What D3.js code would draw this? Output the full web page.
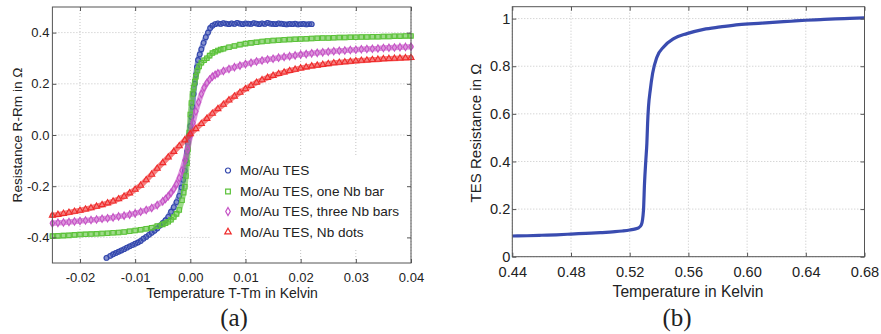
<!DOCTYPE html>
<html><head><meta charset="utf-8">
<script src="https://cdn.jsdelivr.net/npm/d3@7"></script>
<style>
html,body{margin:0;padding:0;background:#fff;}
svg text{font-family:"Liberation Sans",Arial,Helvetica,sans-serif;fill:#222;}
</style></head>
<body>
<svg id="c" width="881" height="334"></svg>
<script>
// ---------- Panel (a) data: [T-Tm (K), R-Rm (Ohm)] ----------
const seriesNames = ["Mo/Au TES", "Mo/Au TES, one Nb bar", "Mo/Au TES, three Nb bars", "Mo/Au TES, Nb dots"];
const blueTES = [[-0.0152,-0.480],[-0.0145,-0.472],[-0.014,-0.466],[-0.0135,-0.461],[-0.013,-0.456],[-0.0125,-0.451],[-0.012,-0.446],[-0.0115,-0.440],[-0.011,-0.435],[-0.0105,-0.430],[-0.010,-0.425],[-0.0095,-0.420],[-0.009,-0.414],[-0.0085,-0.405],[-0.008,-0.398],[-0.0075,-0.390],[-0.007,-0.382],[-0.0065,-0.374],[-0.006,-0.365],[-0.0055,-0.354],[-0.005,-0.344],[-0.0045,-0.333],[-0.004,-0.320],[-0.0035,-0.300],[-0.003,-0.282],[-0.0025,-0.262],[-0.002,-0.238],[-0.0016,-0.205],[-0.0013,-0.175],[-0.001,-0.140],[-0.0008,-0.100],[-0.0006,-0.065],[-0.0004,-0.030],[-0.0002,0.000],[0,0.035],[0.0002,0.070],[0.0004,0.110],[0.0006,0.160],[0.0008,0.200],[0.001,0.235],[0.0012,0.265],[0.0014,0.293],[0.0017,0.315],[0.002,0.335],[0.0024,0.360],[0.0028,0.382],[0.0032,0.400],[0.0036,0.418],[0.004,0.427],[0.0045,0.433],[0.005,0.436],[0.0055,0.434],[0.006,0.437],[0.0065,0.435],[0.007,0.433],[0.0075,0.436],[0.008,0.434],[0.0085,0.438],[0.009,0.435],[0.0095,0.433],[0.010,0.436],[0.0105,0.435],[0.011,0.434],[0.0115,0.437],[0.012,0.435],[0.0125,0.433],[0.013,0.436],[0.0135,0.434],[0.014,0.438],[0.0145,0.435],[0.015,0.434],[0.0155,0.433],[0.016,0.436],[0.0165,0.435],[0.017,0.433],[0.0175,0.432],[0.018,0.434],[0.0185,0.433],[0.019,0.435],[0.0195,0.432],[0.020,0.433],[0.0205,0.434],[0.021,0.432],[0.0215,0.433],[0.022,0.433]];
const greenOneBar = [[-0.025,-0.395],[-0.024,-0.394],[-0.023,-0.393],[-0.022,-0.392],[-0.021,-0.390],[-0.020,-0.389],[-0.019,-0.388],[-0.018,-0.387],[-0.017,-0.386],[-0.016,-0.385],[-0.015,-0.384],[-0.014,-0.382],[-0.013,-0.381],[-0.012,-0.379],[-0.011,-0.376],[-0.010,-0.373],[-0.009,-0.370],[-0.008,-0.366],[-0.007,-0.362],[-0.006,-0.356],[-0.005,-0.349],[-0.0045,-0.345],[-0.004,-0.339],[-0.0035,-0.331],[-0.003,-0.320],[-0.0025,-0.308],[-0.002,-0.293],[-0.0015,-0.255],[-0.0012,-0.225],[-0.001,-0.202],[-0.0008,-0.160],[-0.0006,-0.110],[-0.0004,-0.055],[-0.0002,0.010],[0,0.080],[0.0002,0.125],[0.0004,0.160],[0.0006,0.185],[0.0008,0.208],[0.001,0.228],[0.0013,0.252],[0.0016,0.268],[0.002,0.282],[0.0025,0.292],[0.003,0.300],[0.0035,0.310],[0.004,0.320],[0.0045,0.325],[0.005,0.330],[0.0055,0.334],[0.006,0.337],[0.007,0.343],[0.008,0.348],[0.009,0.353],[0.010,0.357],[0.011,0.360],[0.012,0.362],[0.013,0.365],[0.014,0.367],[0.015,0.369],[0.016,0.370],[0.017,0.372],[0.018,0.373],[0.019,0.374],[0.020,0.375],[0.021,0.376],[0.022,0.377],[0.023,0.378],[0.024,0.379],[0.025,0.379],[0.026,0.380],[0.027,0.381],[0.028,0.381],[0.029,0.382],[0.030,0.382],[0.031,0.383],[0.032,0.383],[0.033,0.384],[0.034,0.384],[0.035,0.385],[0.036,0.385],[0.037,0.386],[0.038,0.386],[0.039,0.387],[0.040,0.387]];
const magentaThreeBars = [[-0.025,-0.345],[-0.024,-0.343],[-0.023,-0.342],[-0.022,-0.340],[-0.021,-0.338],[-0.020,-0.336],[-0.019,-0.334],[-0.018,-0.332],[-0.017,-0.330],[-0.016,-0.327],[-0.015,-0.325],[-0.014,-0.322],[-0.013,-0.318],[-0.012,-0.315],[-0.011,-0.311],[-0.010,-0.306],[-0.009,-0.300],[-0.008,-0.293],[-0.007,-0.285],[-0.006,-0.274],[-0.005,-0.259],[-0.0045,-0.250],[-0.004,-0.239],[-0.0035,-0.226],[-0.003,-0.211],[-0.0025,-0.192],[-0.002,-0.168],[-0.0015,-0.138],[-0.001,-0.100],[-0.0005,-0.055],[0,-0.005],[0.0005,0.048],[0.001,0.092],[0.0015,0.128],[0.002,0.160],[0.0025,0.185],[0.003,0.203],[0.0035,0.217],[0.004,0.228],[0.0045,0.235],[0.005,0.241],[0.006,0.250],[0.007,0.258],[0.008,0.265],[0.009,0.271],[0.010,0.277],[0.011,0.282],[0.012,0.287],[0.013,0.291],[0.014,0.295],[0.015,0.298],[0.016,0.302],[0.017,0.305],[0.018,0.308],[0.019,0.311],[0.020,0.314],[0.021,0.316],[0.022,0.319],[0.023,0.321],[0.024,0.323],[0.025,0.325],[0.026,0.327],[0.027,0.329],[0.028,0.330],[0.029,0.332],[0.030,0.333],[0.031,0.335],[0.032,0.336],[0.033,0.337],[0.034,0.338],[0.035,0.340],[0.036,0.341],[0.037,0.342],[0.038,0.343],[0.039,0.344],[0.040,0.345]];
const redNbDots = [[-0.025,-0.314],[-0.024,-0.311],[-0.023,-0.307],[-0.022,-0.303],[-0.021,-0.299],[-0.020,-0.295],[-0.019,-0.290],[-0.018,-0.285],[-0.017,-0.279],[-0.016,-0.273],[-0.015,-0.266],[-0.014,-0.259],[-0.013,-0.250],[-0.012,-0.240],[-0.011,-0.227],[-0.010,-0.213],[-0.009,-0.197],[-0.008,-0.176],[-0.007,-0.154],[-0.006,-0.131],[-0.005,-0.109],[-0.004,-0.087],[-0.003,-0.065],[-0.002,-0.043],[-0.001,-0.020],[0,0.004],[0.001,0.024],[0.002,0.044],[0.003,0.064],[0.004,0.084],[0.005,0.102],[0.006,0.119],[0.007,0.136],[0.008,0.151],[0.009,0.166],[0.010,0.180],[0.011,0.193],[0.012,0.205],[0.013,0.215],[0.014,0.224],[0.015,0.232],[0.016,0.239],[0.017,0.245],[0.018,0.251],[0.019,0.256],[0.020,0.261],[0.021,0.265],[0.022,0.269],[0.023,0.272],[0.024,0.275],[0.025,0.278],[0.026,0.281],[0.027,0.283],[0.028,0.285],[0.029,0.287],[0.030,0.289],[0.031,0.291],[0.032,0.292],[0.033,0.294],[0.034,0.295],[0.035,0.297],[0.036,0.298],[0.037,0.299],[0.038,0.300],[0.039,0.301],[0.040,0.302]];
const xTicksA = [-0.02,-0.01,0.00,0.01,0.02,0.03,0.04];
const yTicksA = [-0.4,-0.2,0.0,0.2,0.4];

// ---------- Panel (b) data: [Temperature (K), TES resistance (Ohm)] ----------
const tesCurve = [[0.440,0.087],[0.450,0.088],[0.460,0.090],[0.470,0.092],[0.480,0.095],[0.490,0.098],[0.500,0.101],[0.510,0.105],[0.515,0.108],[0.520,0.112],[0.524,0.117],[0.526,0.121],[0.528,0.135],[0.5294,0.196],[0.5301,0.308],[0.531,0.406],[0.5317,0.476],[0.5322,0.560],[0.5328,0.629],[0.534,0.699],[0.5356,0.769],[0.5386,0.839],[0.5431,0.881],[0.550,0.916],[0.559,0.937],[0.5704,0.955],[0.5818,0.965],[0.5943,0.975],[0.610,0.981],[0.620,0.985],[0.630,0.989],[0.640,0.993],[0.650,0.996],[0.660,0.999],[0.670,1.001],[0.680,1.003]];
const xTicksB = [0.44,0.48,0.52,0.56,0.60,0.64,0.68];
const yTicksB = [0,0.2,0.4,0.6,0.8,1];

const svg = d3.select("#c");
svg.append("rect").attr("width",881).attr("height",334).attr("fill","#fff");

const GRID = "#c4c4c4", AXIS = "#555";

function panel(opt){
  const g = svg.append("g");
  const x = d3.scaleLinear().domain(opt.xd).range(opt.xr);
  const y = d3.scaleLinear().domain(opt.yd).range(opt.yr);
  const [x0,x1] = opt.xr, [y0,y1] = opt.yr;
  g.selectAll(".gx").data(opt.xt).enter().append("line")
    .attr("x1",d=>x(d)).attr("x2",d=>x(d)).attr("y1",y0).attr("y2",y1)
    .attr("stroke",GRID).attr("stroke-width",1).attr("stroke-dasharray","1,2");
  g.selectAll(".gy").data(opt.yt).enter().append("line")
    .attr("x1",x0).attr("x2",x1).attr("y1",d=>y(d)).attr("y2",d=>y(d))
    .attr("stroke",GRID).attr("stroke-width",1).attr("stroke-dasharray","1,2");
  return {g,x,y};
}

// ---------- Panel (a) ----------
const A = panel({xd:[-0.025,0.04], xr:[52.4,411], yd:[-0.5,0.5], yr:[263,7], xt:xTicksA, yt:yTicksA});

A.g.append("rect").attr("x",210).attr("y",155).attr("width",200).attr("height",93).attr("fill","#fff");

const seriesA = [
  {data:blueTES, color:"#3347ad", sym:d3.symbolCircle, size:18},
  {data:greenOneBar, color:"#5cc23a", sym:d3.symbolSquare, size:20},
  {data:magentaThreeBars, color:"#c552c5", sym:d3.symbolDiamond, size:16},
  {data:redNbDots, color:"#ef2b2b", sym:d3.symbolTriangle, size:16}
];
const lineA = d3.line().x(d=>A.x(d[0])).y(d=>A.y(d[1]));
seriesA.forEach(s=>{
  A.g.append("path").attr("d",lineA(s.data)).attr("fill","none")
    .attr("stroke",s.color).attr("stroke-width",5.5).attr("stroke-opacity",0.6)
    .attr("stroke-linejoin","round").attr("stroke-linecap","round");
  A.g.selectAll(null).data(s.data).enter().append("path")
    .attr("d",d3.symbol().type(s.sym).size(s.size)())
    .attr("transform",d=>`translate(${A.x(d[0])},${A.y(d[1])})`)
    .attr("fill","none").attr("stroke",s.color).attr("stroke-width",1.1);
});

const legY = [170.5,191.5,211.5,232];
seriesA.forEach((s,i)=>{
  A.g.append("path").attr("d",d3.symbol().type(s.sym).size(s.size+2)())
    .attr("transform",`translate(228,${legY[i]})`)
    .attr("fill","none").attr("stroke",s.color).attr("stroke-width",1.2);
  A.g.append("text").attr("x",240).attr("y",legY[i]).attr("dy","0.35em")
    .attr("font-size","13.6px").text(seriesNames[i]);
});

function axes(P, opt){
  const g = P.g;
  const [x0,x1] = opt.xr, [y0,y1] = opt.yr;
  const ab = d3.axisBottom(P.x).tickValues(opt.xt).tickFormat(opt.fx).tickSizeInner(-4).tickSizeOuter(0).tickPadding(opt.xpad);
  const gb = g.append("g").attr("transform",`translate(0,${y0})`).call(ab);
  gb.select(".domain").remove();
  gb.selectAll("line").attr("stroke",AXIS);
  gb.selectAll("text").attr("font-size",opt.fs).attr("fill","#222").style("font-family","Liberation Sans, Arial, sans-serif");
  const at = d3.axisTop(P.x).tickValues(opt.xt).tickFormat("").tickSizeInner(-4).tickSizeOuter(0);
  const gt = g.append("g").attr("transform",`translate(0,${y1})`).call(at);
  gt.select(".domain").remove(); gt.selectAll("line").attr("stroke",AXIS);
  const al = d3.axisLeft(P.y).tickValues(opt.yt).tickFormat(opt.fy).tickSizeInner(-4).tickSizeOuter(0).tickPadding(opt.ypad);
  const gl = g.append("g").attr("transform",`translate(${x0},0)`).call(al);
  gl.select(".domain").remove();
  gl.selectAll("line").attr("stroke",AXIS);
  gl.selectAll("text").attr("font-size",opt.fs).attr("fill","#222").style("font-family","Liberation Sans, Arial, sans-serif");
  const ar = d3.axisRight(P.y).tickValues(opt.yt).tickFormat("").tickSizeInner(-4).tickSizeOuter(0);
  const gr = g.append("g").attr("transform",`translate(${x1},0)`).call(ar);
  gr.select(".domain").remove(); gr.selectAll("line").attr("stroke",AXIS);
  g.append("rect").attr("x",x0).attr("y",y1).attr("width",x1-x0).attr("height",y0-y1)
    .attr("fill","none").attr("stroke",AXIS).attr("stroke-width",1);
}

const hy = s => s.replace("\u2212","-");
axes(A,{xr:[52.4,411], yr:[263,7], xt:xTicksA, yt:yTicksA,
  fx:d=>hy(d3.format(".2f")(d)), fy:d=>hy(d3.format(".1f")(d)), xpad:10, ypad:3, fs:"13px"});

A.g.append("text").attr("x",232).attr("y",298).attr("text-anchor","middle")
  .attr("font-size","14px").text("Temperature T-Tm in Kelvin");
A.g.append("text").attr("transform","translate(22,135) rotate(-90)").attr("text-anchor","middle")
  .attr("font-size","13.6px").text("Resistance R-Rm in \u03A9");
A.g.append("text").attr("x",234).attr("y",326).attr("text-anchor","middle")
  .attr("font-size","25px").style("font-family","Liberation Serif, Times New Roman, serif").text("(a)");

// ---------- Panel (b) ----------
const B = panel({xd:[0.44,0.68], xr:[512.3,864.5], yd:[0,1.05], yr:[256.7,6.7], xt:xTicksB, yt:yTicksB});
const lineB = d3.line().x(d=>B.x(d[0])).y(d=>B.y(d[1])).curve(d3.curveMonotoneX);
B.g.append("path").attr("d",lineB(tesCurve)).attr("fill","none")
  .attr("stroke","#3a4cb0").attr("stroke-width",3.2).attr("stroke-linejoin","round");

axes(B,{xr:[512.3,864.5], yr:[256.7,6.7], xt:xTicksB, yt:yTicksB,
  fx:d3.format(".2f"), fy:d=>(d===0||d===1)?String(d):d3.format(".1f")(d), xpad:10, ypad:2, fs:"14.6px"});

B.g.append("text").attr("x",688).attr("y",297).attr("text-anchor","middle")
  .attr("font-size","15.6px").text("Temperature in Kelvin");
B.g.append("text").attr("transform","translate(481,133) rotate(-90)").attr("text-anchor","middle")
  .attr("font-size","15px").text("TES Resistance in \u03A9");
B.g.append("text").attr("x",677).attr("y",326).attr("text-anchor","middle")
  .attr("font-size","25px").style("font-family","Liberation Serif, Times New Roman, serif").text("(b)");
</script>
</body></html>
